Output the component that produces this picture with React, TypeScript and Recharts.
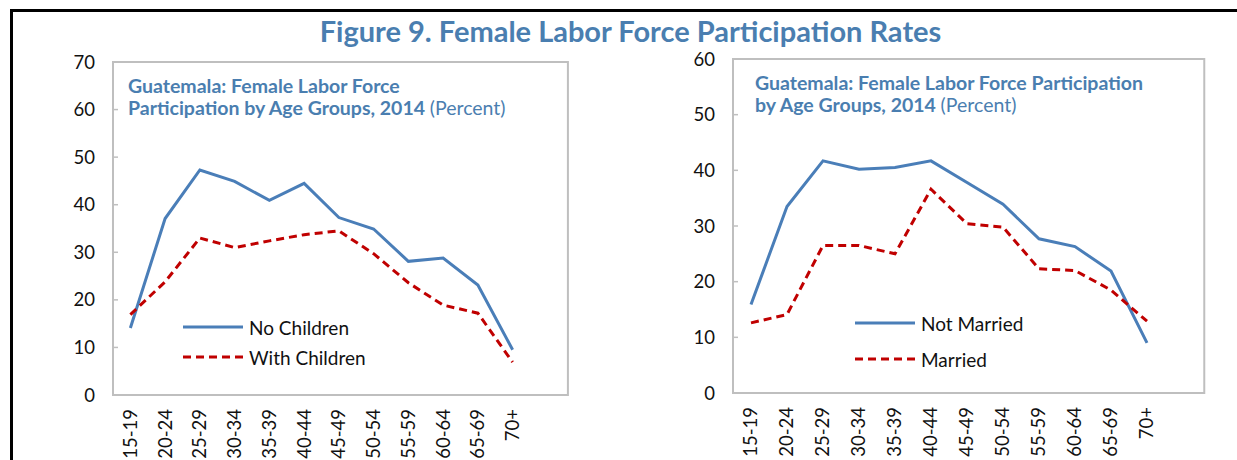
import React from 'react';
import { LineChart, Line, XAxis, YAxis, Legend, ReferenceArea } from 'recharts';

// ---- data ----
const ageGroups = ['15-19', '20-24', '25-29', '30-34', '35-39', '40-44', '45-49', '50-54', '55-59', '60-64', '65-69', '70+'];
const noChildren = [14.1, 37.1, 47.3, 44.9, 40.9, 44.5, 37.3, 34.9, 28.1, 28.8, 23.1, 9.5];
const withChildren = [16.9, 23.8, 33.0, 31.0, 32.4, 33.7, 34.5, 29.7, 23.6, 18.9, 17.2, 6.9];
const notMarried = [15.9, 33.5, 41.7, 40.2, 40.5, 41.7, 37.8, 33.9, 27.7, 26.3, 21.9, 9.0];
const married = [12.6, 14.1, 26.5, 26.5, 25.0, 36.6, 30.4, 29.8, 22.3, 22.0, 18.5, 12.9];
const leftTicks = [0, 10, 20, 30, 40, 50, 60, 70];
const rightTicks = [0, 10, 20, 30, 40, 50, 60];
const boundaryTicks = [1, 2, 3, 4, 5, 6, 7, 8, 9, 10, 11];

const mainTitle = 'Figure 9. Female Labor Force Participation Rates';

const leftData = ageGroups.map((age, i) => ({ age, noChildren: noChildren[i], withChildren: withChildren[i] }));
const rightData = ageGroups.map((age, i) => ({ age, notMarried: notMarried[i], married: married[i] }));

// ---- styles ----
const FONT = 'Lato, "Open Sans", sans-serif';
const BLUE = '#4a7eb8';
const RED = '#c00000';
const TITLE_BLUE = '#4a7eb0';
const GRAY = '#bfbfbf';
const TEXT = '#111111';
const TICK_FS = 18.5;

const RotatedTick = (props: any) => {
  const { x, y, payload } = props;
  return (
    <text
      x={x}
      y={y}
      transform={`rotate(-90, ${x}, ${y})`}
      textAnchor="end"
      dy="0.35em"
      fontSize={TICK_FS}
      fontFamily={FONT}
      fill={TEXT}
    >
      {payload.value}
    </text>
  );
};

type LegendItem = { label: string; color: string; dash?: string };

const makeLegend = (items: LegendItem[], rowH: number) => () => (
  <div style={{ fontFamily: FONT, fontSize: 19, color: TEXT }}>
    {items.map((it, i) => (
      <div key={i} style={{ display: 'flex', alignItems: 'center', height: rowH, whiteSpace: 'nowrap' }}>
        <svg width={62} height={6} style={{ display: 'block' }}>
          <line x1={1} y1={3} x2={61} y2={3} stroke={it.color} strokeWidth={3} strokeDasharray={it.dash} />
        </svg>
        <span style={{ marginLeft: 5 }}>{it.label}</span>
      </div>
    ))}
  </div>
);

const subtitleStyle: React.CSSProperties = {
  position: 'absolute',
  fontFamily: FONT,
  fontSize: 19.5,
  lineHeight: '22px',
  fontWeight: 700,
  color: TITLE_BLUE,
  whiteSpace: 'nowrap',
};

function Panel(props: {
  left: number;
  width: number;
  data: any[];
  keys: [string, string];
  colors: [string, string];
  labels: [string, string];
  max: number;
  ticks: number[];
  yWidth: number;
  marginTop: number;
  marginRight: number;
  xHeight: number;
  legendLeft: number;
  legendTop: number;
  legendRow: number;
}) {
  const p = props;
  return (
    <div style={{ position: 'absolute', left: p.left, top: 0 }}>
      <LineChart
        width={p.width}
        height={460}
        data={p.data}
        margin={{ top: p.marginTop, right: p.marginRight, bottom: 0, left: 0 }}
      >
        <XAxis
          xAxisId="grid"
          type="number"
          domain={[0, 12]}
          ticks={boundaryTicks}
          tick={false}
          axisLine={false}
          tickSize={-6}
          height={0}
          tickLine={{ stroke: GRAY, strokeWidth: 1.5 }}
        />
        <XAxis
          dataKey="age"
          scale="band"
          interval={0}
          tickLine={false}
          axisLine={{ stroke: GRAY, strokeWidth: 2 }}
          tick={<RotatedTick />}
          tickMargin={8}
          height={p.xHeight}
        />
        <YAxis
          domain={[0, p.max]}
          ticks={p.ticks}
          interval={0}
          width={p.yWidth}
          tickSize={-5}
          tickMargin={23}
          axisLine={{ stroke: GRAY, strokeWidth: 2 }}
          tickLine={{ stroke: GRAY, strokeWidth: 1.5 }}
          tick={{ fontSize: TICK_FS, fill: TEXT, fontFamily: FONT }}
        />
        <ReferenceArea
          xAxisId="grid"
          x1={0}
          x2={12}
          y1={0}
          y2={p.max}
          fill="none"
          stroke={GRAY}
          strokeWidth={2}
          ifOverflow="visible"
        />
        <Line
          dataKey={p.keys[0]}
          stroke={p.colors[0]}
          strokeWidth={3}
          dot={false}
          activeDot={false}
          isAnimationActive={false}
          type="linear"
        />
        <Line
          dataKey={p.keys[1]}
          stroke={p.colors[1]}
          strokeWidth={3}
          strokeDasharray="8 5"
          dot={false}
          activeDot={false}
          isAnimationActive={false}
          type="linear"
        />
        <Legend
          layout="vertical"
          align="center"
          verticalAlign="middle"
          wrapperStyle={{ left: p.legendLeft, top: p.legendTop, width: 'auto', height: 'auto' }}
          content={makeLegend(
            [
              { label: p.labels[0], color: p.colors[0] },
              { label: p.labels[1], color: p.colors[1], dash: '8 5' },
            ],
            p.legendRow
          )}
        />
      </LineChart>
    </div>
  );
}

export default function App() {
  return (
    <div style={{ position: 'absolute', left: 0, top: 0, width: 1237, height: 460, overflow: 'hidden', background: '#fff' }}>
      <div
        style={{
          position: 'absolute',
          left: 10,
          top: 9,
          width: 1227,
          height: 460,
          borderTop: '3px solid #000',
          borderLeft: '3px solid #000',
          boxSizing: 'border-box',
        }}
      />
      <div
        style={{
          position: 'absolute',
          left: 0,
          top: 13,
          width: 1261,
          textAlign: 'center',
          fontFamily: FONT,
          fontWeight: 700,
          fontSize: 29,
          lineHeight: '35px',
          color: TITLE_BLUE,
          whiteSpace: 'nowrap',
        }}
      >
        {mainTitle}
      </div>
      <Panel
        left={0}
        width={600}
        data={leftData}
        keys={['noChildren', 'withChildren']}
        colors={[BLUE, RED]}
        labels={['No Children', 'With Children']}
        max={70}
        ticks={leftTicks}
        yWidth={113}
        marginTop={62}
        marginRight={70}
        xHeight={65}
        legendLeft={182}
        legendTop={312}
        legendRow={30}
      />
      <Panel
        left={600}
        width={637}
        data={rightData}
        keys={['notMarried', 'married']}
        colors={[BLUE, RED]}
        labels={['Not Married', 'Married']}
        max={60}
        ticks={rightTicks}
        yWidth={133}
        marginTop={59}
        marginRight={72}
        xHeight={67}
        legendLeft={254}
        legendTop={305}
        legendRow={36}
      />
      <div style={{ ...subtitleStyle, left: 128, top: 75 }}>
        Guatemala: Female Labor Force
        <br />
        Participation by Age Groups, 2014 <span style={{ fontWeight: 400 }}>(Percent)</span>
      </div>
      <div style={{ ...subtitleStyle, left: 755, top: 72 }}>
        Guatemala: Female Labor Force Participation
        <br />
        by Age Groups, 2014 <span style={{ fontWeight: 400 }}>(Percent)</span>
      </div>
    </div>
  );
}
